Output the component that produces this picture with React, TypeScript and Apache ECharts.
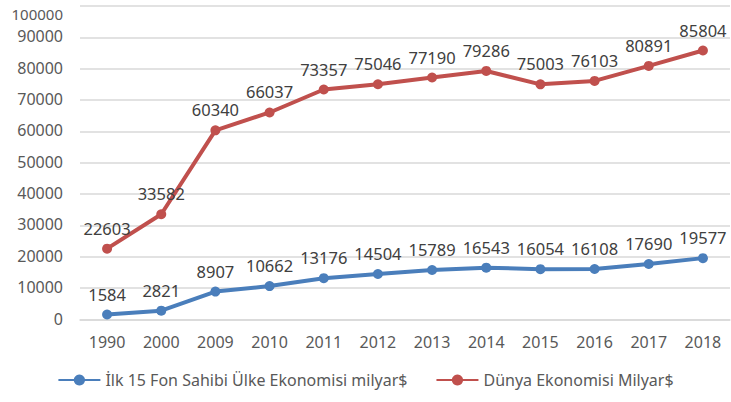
import React, { useEffect, useRef } from "react";
import * as echarts from "echarts";

const years = ["1990", "2000", "2009", "2010", "2011", "2012", "2013", "2014", "2015", "2016", "2017", "2018"];
const top15 = [1584, 2821, 8907, 10662, 13176, 14504, 15789, 16543, 16054, 16108, 17690, 19577];
const world = [22603, 33582, 60340, 66037, 73357, 75046, 77190, 79286, 75003, 76103, 80891, 85804];
const seriesNames = ["İlk 15 Fon Sahibi Ülke Ekonomisi milyar$", "Dünya Ekonomisi Milyar$"];

const FONT = "Noto Sans";

export default function App() {
  const ref = useRef<HTMLDivElement>(null);
  useEffect(() => {
    const chart = echarts.init(ref.current!, null, { renderer: "svg" });
    const mk = (name: string, data: number[], color: string) => ({
      name,
      type: "line",
      data,
      symbol: "circle",
      symbolSize: 10,
      lineStyle: { width: 4, color },
      itemStyle: { color },
      label: {
        show: true,
        position: "top",
        distance: 7,
        color: "#404040",
        fontFamily: FONT,
        fontSize: 16.5,
      },
    });
    chart.setOption({
      animation: false,
      backgroundColor: "#ffffff",
      textStyle: { fontFamily: FONT },
      grid: { left: 80, right: 1, top: 6, bottom: 82.5, containLabel: false },
      legend: {
        bottom: 9,
        left: "center",
        itemWidth: 42,
        itemHeight: 14,
        itemGap: 28,
        textStyle: { color: "#595959", fontFamily: FONT, fontSize: 16 },
        data: seriesNames,
      },
      xAxis: {
        type: "category",
        data: years,
        boundaryGap: true,
        axisLine: { show: true, lineStyle: { color: "#d9d9d9", width: 1.5 } },
        axisTick: { show: false },
        axisLabel: { color: "#595959", fontFamily: FONT, fontSize: 16, margin: 14 },
      },
      yAxis: {
        type: "value",
        min: 0,
        max: 100000,
        interval: 10000,
        axisLine: { show: false },
        axisTick: { show: false },
        splitLine: { lineStyle: { color: "#d9d9d9", width: 1.5 } },
        axisLabel: {
          color: "#595959",
          fontFamily: FONT,
          fontSize: 16,
          margin: 17,
          verticalAlign: "top",
          padding: [-9, 0, 0, 0],
          formatter: (v: number) => (v === 100000 ? "{t|" + v + "}" : String(v)),
          rich: {
            t: { color: "#595959", fontFamily: FONT, fontSize: 15, padding: [9, 0, 0, 0] },
          },
        },
      },
      series: [mk(seriesNames[0], top15, "#4a7ebb"), mk(seriesNames[1], world, "#c0504d")],
    });
    return () => chart.dispose();
  }, []);
  return (
    <div
      ref={ref}
      style={{ position: "fixed", left: 0, top: 0, width: 731, height: 402, background: "#fff" }}
    />
  );
}
